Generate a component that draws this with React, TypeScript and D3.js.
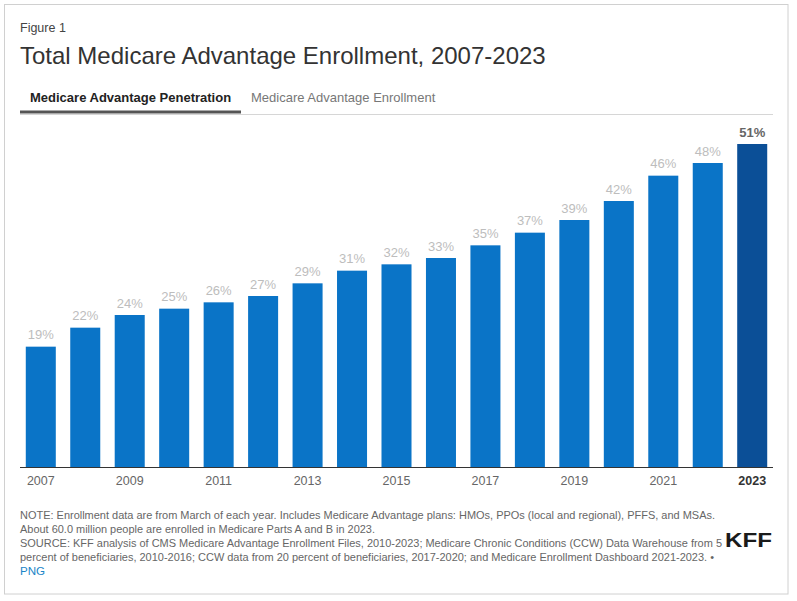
import React from "react";
import * as d3 from "d3";

// Medicare Advantage penetration, share of eligible Medicare population (%)
const years = [2007, 2008, 2009, 2010, 2011, 2012, 2013, 2014, 2015, 2016, 2017, 2018, 2019, 2020, 2021, 2022, 2023];
const penetration = [19, 22, 24, 25, 26, 27, 29, 31, 32, 33, 35, 37, 39, 42, 46, 48, 51];
const tabs = ["Medicare Advantage Penetration", "Medicare Advantage Enrollment"];
const noteLines = [
  "NOTE: Enrollment data are from March of each year. Includes Medicare Advantage plans: HMOs, PPOs (local and regional), PFFS, and MSAs.",
  "About 60.0 million people are enrolled in Medicare Parts A and B in 2023.",
  "SOURCE: KFF analysis of CMS Medicare Advantage Enrollment Files, 2010-2023; Medicare Chronic Conditions (CCW) Data Warehouse from 5",
  "percent of beneficiaries, 2010-2016; CCW data from 20 percent of beneficiaries, 2017-2020; and Medicare Enrollment Dashboard 2021-2023. •",
];

const width = 797;
const height = 601;
const font = "'Liberation Sans', Arial, sans-serif";
// rendered widths of the note lines in the reference (the source font is narrower)
const noteWidths = [695, 355, 702, 694];

const App: React.FC = () => {
  const data = years.map((y, i) => ({ year: y, value: penetration[i] }));
  const lastYear = years[years.length - 1];

  const x = d3
    .scaleBand<number>()
    .domain(years)
    .range([20, 773])
    .paddingInner(0.325)
    .paddingOuter(0.13);

  const baseline = 467;
  const y = d3.scaleLinear().domain([0, 51]).range([baseline, 144]);

  return (
    <div style={{ position: "absolute", left: 0, top: 0 }}>
      <svg width={width} height={height} style={{ display: "block", fontFamily: font }}>
        <rect x={0} y={0} width={width} height={height} fill="#fff" />
        {/* frame */}
        <rect x={4.5} y={4.5} width={783.5} height={589.5} fill="none" stroke="#d0d0d0" strokeWidth={1} />

        {/* header */}
        <text x={20} y={31.5} fontSize={12.5} fill="#444">Figure 1</text>
        <text x={20} y={63.5} fontSize={24} fill="#333">
          Total Medicare Advantage Enrollment, 2007-2023
        </text>

        {/* tabs */}
        <line x1={20} x2={773} y1={114.5} y2={114.5} stroke="#d6d6d6" strokeWidth={1} />
        <line x1={20} x2={241} y1={112} y2={112} stroke="#555" strokeWidth={3} />
        <text x={30} y={102} fontSize={13} fontWeight="bold" fill="#222">{tabs[0]}</text>
        <text x={251} y={102} fontSize={13} fill="#777">{tabs[1]}</text>

        {/* bars */}
        {data.map((d) => {
          const last = d.year === lastYear;
          return (
            <g key={d.year}>
              <rect
                x={x(d.year)!}
                y={y(d.value)}
                width={x.bandwidth()}
                height={baseline - y(d.value)}
                fill={last ? "#0b4f97" : "#0a74c7"}
              />
              <text
                x={x(d.year)! + x.bandwidth() / 2}
                y={y(d.value) - 7.5}
                textAnchor="middle"
                fontSize={13}
                fontWeight={last ? "bold" : "normal"}
                fill={last ? "#666" : "#bdbdbd"}
              >
                {d.value}%
              </text>
            </g>
          );
        })}

        {/* x axis */}
        <line x1={20} x2={773} y1={baseline + 0.5} y2={baseline + 0.5} stroke="#333" strokeWidth={1} />
        {years
          .filter((yr) => (yr - years[0]) % 2 === 0)
          .map((yr) => (
            <text
              key={yr}
              x={x(yr)! + x.bandwidth() / 2}
              y={485}
              textAnchor="middle"
              fontSize={12.5}
              fontWeight={yr === lastYear ? "bold" : "normal"}
              fill={yr === lastYear ? "#333" : "#666"}
            >
              {yr}
            </text>
          ))}

        {/* notes */}
        {noteLines.map((line, i) => (
          <text
            key={i}
            x={20}
            y={518.5 + i * 14}
            fontSize={11.6}
            fill="#666"
            textLength={noteWidths[i]}
            lengthAdjust="spacingAndGlyphs"
          >
            {line}
          </text>
        ))}
        <text x={20} y={575} fontSize={11.6} fill="#1a86c8">PNG</text>

        {/* logo */}
        <text
          x={725}
          y={546.7}
          fontSize={21}
          fontWeight="bold"
          fill="#1a1a1a"
          textLength={47}
          lengthAdjust="spacingAndGlyphs"
        >
          KFF
        </text>
      </svg>
    </div>
  );
};

export default App;
